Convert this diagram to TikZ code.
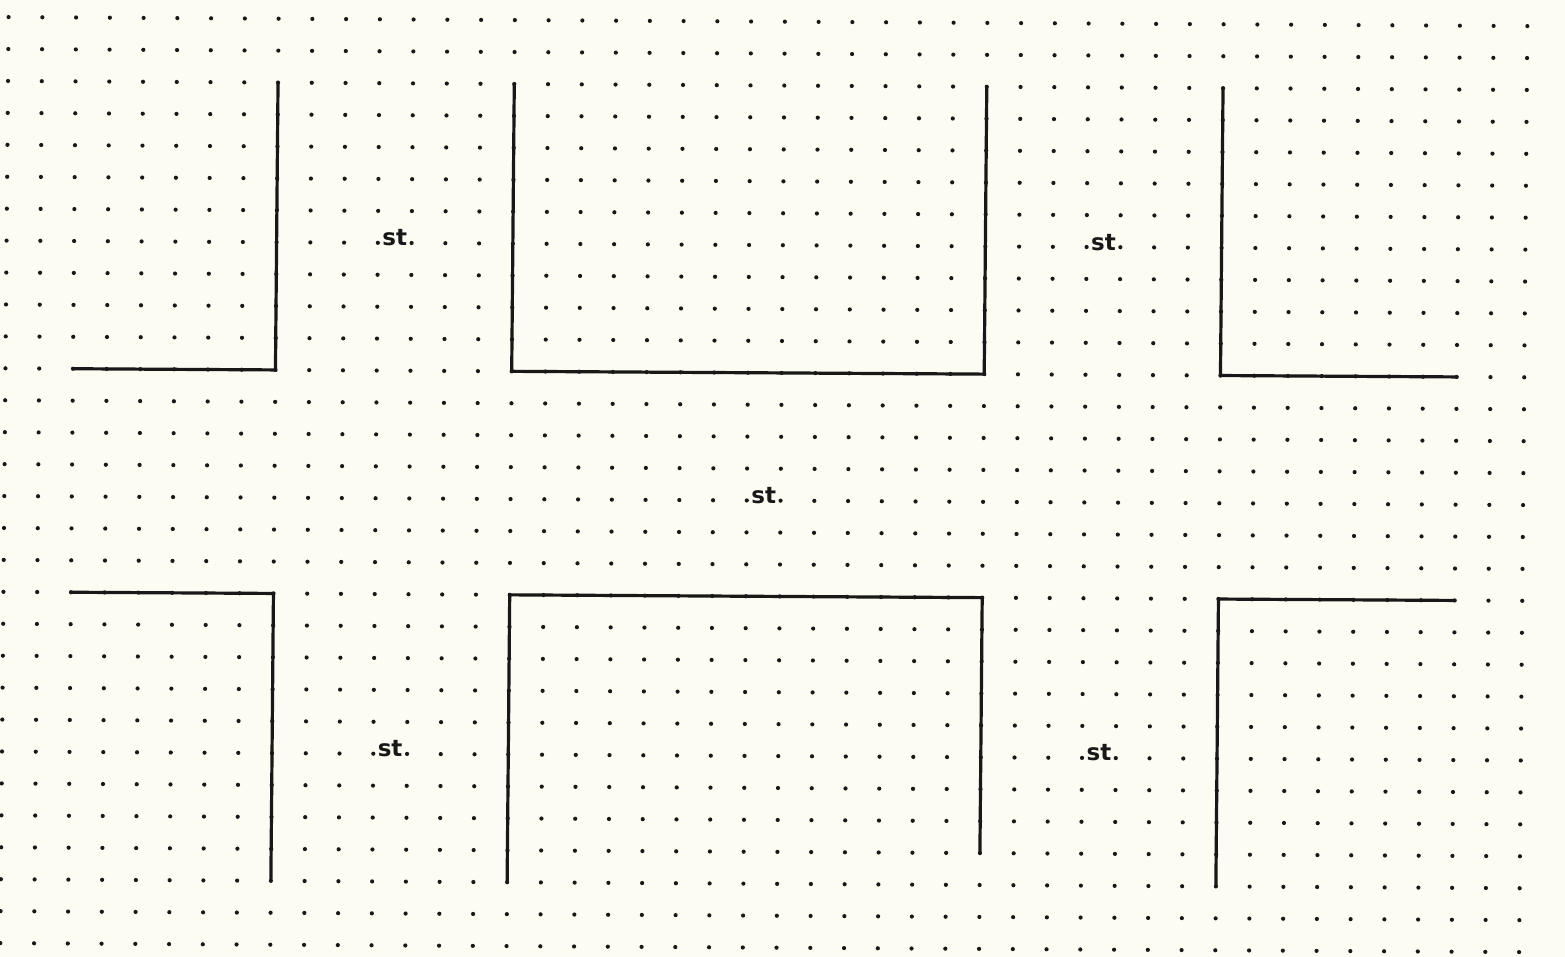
\documentclass[tikz,border=0pt]{standalone}
\usepackage{fontspec}
\newfontfamily\lblfont{DejaVu Sans}
\definecolor{paper}{RGB}{253,252,243}
\definecolor{ink}{RGB}{24,24,24}
\tikzset{
  griddot/.style={fill=ink},
  wall/.style={draw=ink, line width=3.2pt, line cap=butt, line join=miter},
  lbl/.style={inner sep=0pt, anchor=base, text=ink, font=\lblfont\bfseries\fontsize{23}{27}\selectfont}
}
\begin{document}
\begin{tikzpicture}
  \fill[paper] (0pt,0pt) rectangle (1565pt,-957pt);
  \useasboundingbox (0pt,0pt) rectangle (1565pt,-957pt);
  \begin{scope}[shift={(8.6pt,-17.1pt)}, x={(33.75pt,-0.2pt)}, y={(-0.286pt,-31.93pt)}]
    % dot grid
    \foreach \i in {0,...,45} {
      \foreach \j in {0,...,29} {
        \fill[griddot] (\i,\j) circle[radius=2.1pt];
      }
    }
    % top row of shapes
    \draw[wall] (2,11) -- (8,11) -- (8,2);
    \draw[wall] (15,2) -- (15,11) -- (29,11) -- (29,2);
    \draw[wall] (36,2) -- (36,11) -- (43,11);
    % bottom row of shapes
    \draw[wall] (2,18) -- (8,18) -- (8,27);
    \draw[wall] (15,27) -- (15,18) -- (29,18) -- (29,26);
    \draw[wall] (43,18) -- (36,18) -- (36,27);
    % labels
    \node[lbl, yshift=-3pt] (t1) at (11.5,7) {st};
    \node[lbl, yshift=-3pt] (t2) at (32.5,7) {st};
    \node[lbl, yshift=-3pt] (t3) at (22.5,15) {st};
    \node[lbl, yshift=-3pt] (t4) at (11.5,23) {st};
    \node[lbl, yshift=-3pt] (t5) at (32.5,23) {st};
  \end{scope}
\end{tikzpicture}
\end{document}
